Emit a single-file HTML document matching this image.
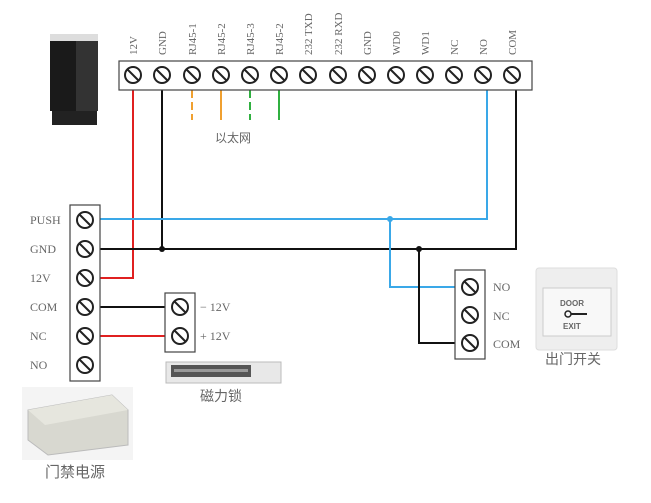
<!DOCTYPE html>
<html><head><meta charset="utf-8"><style>
html,body{margin:0;padding:0;background:#fff;}
svg{display:block;}
text{font-family:"Liberation Serif","Noto Serif CJK SC",serif;fill:#666;}
.cjk{font-family:"Liberation Sans","Noto Sans CJK SC",sans-serif;}
</style></head><body>
<svg width="651" height="503" viewBox="0 0 651 503" xmlns="http://www.w3.org/2000/svg">
<defs>
<g id="s"><circle r="8" fill="#fff" stroke="#222" stroke-width="2"/><line x1="-5.5" y1="-5.5" x2="5.5" y2="5.5" stroke="#222" stroke-width="2"/></g>
</defs>
<!-- reader -->
<rect x="50" y="34" width="48" height="8" fill="#ddd"/>
<rect x="50" y="41" width="48" height="70" fill="#1a1a1a"/>
<rect x="76" y="41" width="22" height="70" fill="#333"/>
<rect x="52" y="111" width="45" height="14" fill="#222"/>
<!-- wires -->
<g fill="none" stroke-width="2">
<polyline points="133,90 133,278 100,278" stroke="#e02020"/>
<polyline points="162,90 162,249" stroke="#111"/>
<polyline points="100,249 516,249 516,90" stroke="#111"/>
<polyline points="100,219 487,219 487,90" stroke="#3aa8e8"/>
<polyline points="390,219 390,287 455,287" stroke="#3aa8e8"/>
<polyline points="419,249 419,343 455,343" stroke="#111"/>
<line x1="100" y1="307" x2="165" y2="307" stroke="#111"/>
<line x1="100" y1="336" x2="165" y2="336" stroke="#e02020"/>
<line x1="192" y1="90" x2="192" y2="120" stroke="#f0a030" stroke-dasharray="8,4"/>
<line x1="221" y1="90" x2="221" y2="120" stroke="#f0a030"/>
<line x1="250" y1="90" x2="250" y2="120" stroke="#30b040" stroke-dasharray="8,4"/>
<line x1="279" y1="90" x2="279" y2="120" stroke="#30b040"/>
</g>
<circle cx="162" cy="249" r="3" fill="#111"/>
<circle cx="419" cy="249" r="3" fill="#111"/>
<circle cx="390" cy="219" r="3" fill="#3aa8e8"/>
<!-- top strip -->
<rect x="119" y="61" width="413" height="29" fill="#fff" stroke="#444" stroke-width="1.2"/>
<g>
<use href="#s" x="133" y="75"/><use href="#s" x="162" y="75"/><use href="#s" x="192" y="75"/><use href="#s" x="221" y="75"/><use href="#s" x="250" y="75"/><use href="#s" x="279" y="75"/><use href="#s" x="308" y="75"/><use href="#s" x="338" y="75"/><use href="#s" x="367" y="75"/><use href="#s" x="396" y="75"/><use href="#s" x="425" y="75"/><use href="#s" x="454" y="75"/><use href="#s" x="483" y="75"/><use href="#s" x="512" y="75"/>
</g>
<g font-size="11">
<text transform="translate(137,55) rotate(-90)">12V</text>
<text transform="translate(166,55) rotate(-90)">GND</text>
<text transform="translate(196,55) rotate(-90)">RJ45-1</text>
<text transform="translate(225,55) rotate(-90)">RJ45-2</text>
<text transform="translate(254,55) rotate(-90)">RJ45-3</text>
<text transform="translate(283,55) rotate(-90)">RJ45-2</text>
<text transform="translate(312,55) rotate(-90)">232 TXD</text>
<text transform="translate(342,55) rotate(-90)">232 RXD</text>
<text transform="translate(371,55) rotate(-90)">GND</text>
<text transform="translate(400,55) rotate(-90)">WD0</text>
<text transform="translate(429,55) rotate(-90)">WD1</text>
<text transform="translate(458,55) rotate(-90)">NC</text>
<text transform="translate(487,55) rotate(-90)">NO</text>
<text transform="translate(516,55) rotate(-90)">COM</text>
</g>
<text x="215" y="142" font-size="12" class="cjk" fill="#777">以太网</text>
<!-- left strip -->
<rect x="70" y="205" width="30" height="176" fill="#fff" stroke="#444" stroke-width="1.2"/>
<use href="#s" x="85" y="220"/><use href="#s" x="85" y="249"/><use href="#s" x="85" y="278"/><use href="#s" x="85" y="307"/><use href="#s" x="85" y="336"/><use href="#s" x="85" y="365"/>
<g font-size="12">
<text x="30" y="224">PUSH</text><text x="30" y="253">GND</text><text x="30" y="282">12V</text><text x="30" y="311">COM</text><text x="30" y="340">NC</text><text x="30" y="369">NO</text>
</g>
<!-- lock terminal -->
<rect x="165" y="293" width="30" height="59" fill="#fff" stroke="#444" stroke-width="1.2"/>
<use href="#s" x="180" y="307"/><use href="#s" x="180" y="336"/>
<g font-size="12"><text x="200" y="311">− 12V</text><text x="200" y="340">+ 12V</text></g>
<!-- lock image -->
<rect x="166" y="362" width="115" height="21" fill="#e8e8e8" stroke="#bbb"/>
<rect x="171" y="365" width="80" height="12" fill="#555"/>
<rect x="174" y="369" width="74" height="3" fill="#999"/>
<text x="200" y="401" font-size="14" class="cjk" fill="#8a6ab0">磁力锁</text>
<!-- power supply -->
<rect x="22" y="387" width="111" height="73" fill="#f4f4f4"/>
<polygon points="28,410 112,395 128,410 128,445 48,455 28,440" fill="#d8d8d0" stroke="#bbb"/>
<polygon points="28,410 112,395 128,410 45,425" fill="#e6e6de"/>
<text x="45" y="477" font-size="15" class="cjk" fill="#8a6ab0">门禁电源</text>
<!-- right terminal -->
<rect x="455" y="270" width="30" height="89" fill="#fff" stroke="#444" stroke-width="1.2"/>
<use href="#s" x="470" y="287"/><use href="#s" x="470" y="315"/><use href="#s" x="470" y="343"/>
<g font-size="12"><text x="493" y="291">NO</text><text x="493" y="320">NC</text><text x="493" y="348">COM</text></g>
<!-- door switch -->
<rect x="536" y="268" width="81" height="82" rx="3" fill="#eeeeee" stroke="#ddd"/>
<rect x="543" y="288" width="68" height="48" fill="#f8f8f8" stroke="#ccc"/>
<text x="560" y="306" font-size="8" font-weight="bold" fill="#222" style="font-family:'Liberation Sans',sans-serif">DOOR</text>
<circle cx="568" cy="314" r="3" fill="none" stroke="#222" stroke-width="1.5"/><line x1="571" y1="314" x2="587" y2="314" stroke="#222" stroke-width="2"/>
<text x="563" y="329" font-size="8" font-weight="bold" fill="#222" style="font-family:'Liberation Sans',sans-serif">EXIT</text>
<text x="545" y="364" font-size="14" class="cjk" fill="#8a6ab0">出门开关</text>
</svg>
</body></html>
